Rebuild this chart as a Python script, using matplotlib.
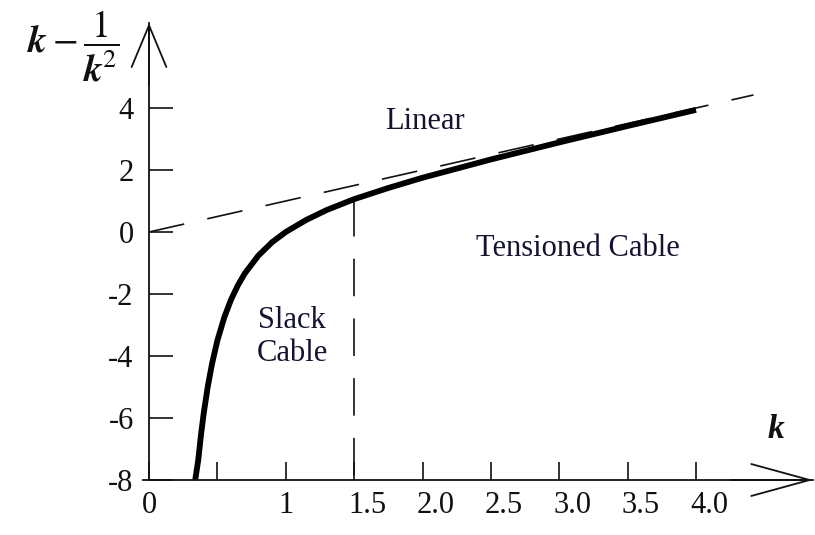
import matplotlib
matplotlib.use("Agg")
import matplotlib.pyplot as plt
from matplotlib.transforms import ScaledTranslation

# ---------------- data ----------------
k_vals = [0.338, 0.36, 0.38, 0.40, 0.43, 0.46, 0.50, 0.55, 0.60, 0.65, 0.70,
          0.80, 0.90, 1.00, 1.15, 1.30, 1.50, 1.75, 2.00, 2.50, 3.00, 3.50, 4.00]
f_vals = [-8.00, -7.36, -6.55, -5.85, -4.98, -4.27, -3.50, -2.76, -2.18, -1.72, -1.34,
          -0.76, -0.33, 0.00, 0.39, 0.71, 1.06, 1.42, 1.75, 2.34, 2.89, 3.42, 3.94]
linear_k = [0.0, 4.42]
linear_f = [0.0, 4.42]
boundary_k = 1.5
xtick_vals = [0, 0.5, 1, 1.5, 2.0, 2.5, 3.0, 3.5, 4.0]
xtick_labels = ["0", "", "1", "1.5", "2.0", "2.5", "3.0", "3.5", "4.0"]
ytick_vals = [-8, -6, -4, -2, 0, 2, 4]
ytick_labels = ["-8", "-6", "-4", "-2", "0", "2", "4"]

plt.rcParams["font.family"] = ["Liberation Serif", "DejaVu Serif"]
plt.rcParams["mathtext.fontset"] = "stix"
plt.rcParams["lines.scale_dashes"] = False

W, H = 815, 535
fig = plt.figure(figsize=(W / 100, H / 100), dpi=100)
ax = fig.add_axes([0, 0, 1, 1])

# pixel geometry of the reference axes
x0_px, xu_px = 149.0, 136.75
y0_px, yu_px = 232.0, 31.0
ax.set_xlim(-x0_px / xu_px, (W - x0_px) / xu_px)
ax.set_ylim((y0_px - H) / yu_px, y0_px / yu_px)
ax.set_facecolor("white")

ink = "#111111"

# spines as the axes
for s in ("top", "right"):
    ax.spines[s].set_visible(False)
ax.spines["left"].set_position(("data", 0))
ax.spines["bottom"].set_position(("data", -8))
y_tip = (y0_px - 23) / yu_px
x_tip = (813 - x0_px) / xu_px
ax.spines["left"].set_bounds(-8, y_tip)
ax.spines["bottom"].set_bounds(-0.045, x_tip)
for s in ("left", "bottom"):
    ax.spines[s].set_linewidth(1.3)
    ax.spines[s].set_color(ink)

# arrow heads (open chevrons)
ax.annotate("", xy=(0, y_tip), xytext=(0, y_tip - 2.0),
            arrowprops=dict(arrowstyle="->,head_length=3.0,head_width=1.25",
                            lw=1.3, color=ink, shrinkA=0, shrinkB=0))
ax.annotate("", xy=(x_tip, -8), xytext=(x_tip - 0.6, -8),
            arrowprops=dict(arrowstyle="->,head_length=4.2,head_width=1.15",
                            lw=1.3, color=ink, shrinkA=0, shrinkB=0))

# ticks
ax.set_xticks(xtick_vals)
ax.set_xticklabels(xtick_labels)
ax.set_yticks(ytick_vals)
ax.set_yticklabels(ytick_labels)
ax.tick_params(axis="y", direction="in", length=17, width=1.2, pad=11,
               labelsize=22, colors=ink)
ax.tick_params(axis="x", direction="in", length=13, width=1.2, pad=8,
               labelsize=22, colors=ink)
for lab, v in zip(ax.get_xticklabels(), xtick_vals):
    if v >= 1.5:
        lab.set_transform(lab.get_transform() +
                          ScaledTranslation(0.13, 0, fig.dpi_scale_trans))

# linear asymptote (dashed)
ax.plot(linear_k, linear_f, color=ink, lw=1.2, dashes=(26, 17))

# boundary between slack and tensioned (dashed vertical)
f_at_boundary = f_vals[k_vals.index(boundary_k)]
ax.plot([boundary_k, boundary_k], [f_at_boundary, -8], color=ink, lw=1.2,
        dashes=(27, 16))

# main curve
ax.plot(k_vals, f_vals, color="black", lw=4.2, solid_capstyle="butt",
        solid_joinstyle="round")

# region labels
txt_col = "#141432"
ax.text(2.02, 3.55, "Linear", fontsize=22, ha="center", va="center", color=txt_col)
ax.text(3.137, -0.52, "Tensioned Cable", fontsize=22, ha="center", va="center",
        color=txt_col)
ax.text(1.046, -3.39, "Slack\nCable", fontsize=22, ha="center", va="center",
        color=txt_col, linespacing=1.2)

# axis titles
fig.text(27 / W, 1 - 46 / H, r"$\boldsymbol{k}-\dfrac{1}{\boldsymbol{k}^{2}}$",
         fontsize=27, ha="left", va="center", color=ink)
fig.text(776 / W, 1 - 430 / H, "k", fontsize=24, style="italic",
         weight="bold", ha="center", va="center", color=ink)

fig.savefig("out.png", dpi=100, facecolor="white")
